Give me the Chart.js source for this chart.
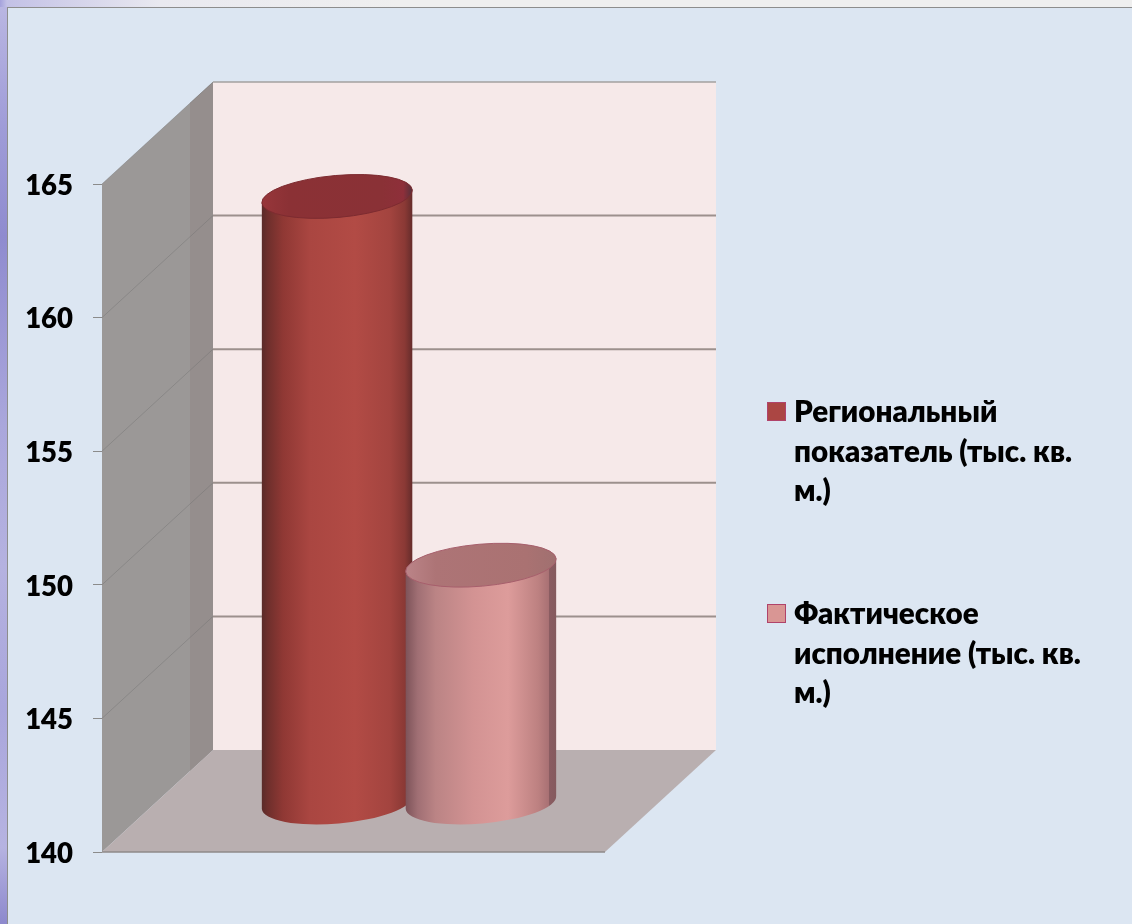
<!DOCTYPE html>
<html>
<head>
<meta charset="utf-8">
<title>Региональный показатель</title>
<script src="https://cdn.jsdelivr.net/npm/chart.js@4"></script>
<style>
  html, body { margin: 0; padding: 0; }
  body {
    width: 1132px; height: 924px; overflow: hidden; position: relative;
    background: linear-gradient(90deg, #a5a2dc 0, #c3c1e6 7px, #e9e9f0 160px, #efefef 400px);
  }
  #strip {
    position: absolute; left: 0; top: 7px; width: 7px; height: 917px;
    background: linear-gradient(180deg, #b9b6e2 0, #9f9cd8 120px, #8f8bcf 230px, #aaa7dc 420px, #b5b2e0 560px, #a9a6dc 700px, #b6b3e1 840px, #8985cb 924px);
  }
  #panel {
    position: absolute; left: 7px; top: 7px; width: 1125px; height: 917px;
    box-sizing: border-box; background: #dce6f2;
    border-left: 1px solid #8d8d8d; border-top: 1px solid #8d8d8d;
  }
  canvas { position: absolute; left: 0; top: 0; }
  #legend { position: absolute; left: 767px; top: 0; font: 800 29.6px Lato, "Noto Sans", sans-serif; color: #000; }
  .item { position: absolute; left: 0; width: 340px; line-height: 39.5px; }
  .item:nth-child(1) { top: 391px; }
  .item:nth-child(2) { top: 593px; }
  .item i { position: absolute; left: 0; top: 11px; width: 17px; height: 17px; border: 1px solid #b0436a; }
  .item span { display: block; margin-left: 27px; white-space: nowrap; }
</style>
</head>
<body>
<div id="strip"></div>
<div id="panel"></div>
<canvas id="chart" width="1132" height="924"></canvas>
<div id="legend"></div>
<script>
// --- Data ---
const categories = ["Показатель"];
const seriesLabels = [
  ["Региональный", "показатель (тыс. кв.", "м.)"],
  ["Фактическое", "исполнение (тыс. кв.", "м.)"],
];
const seriesColors = ["#ab4643", "#d99694"];
const regionalValues = [162.7];
const actualValues = [148.9];
const yTicks = [140, 145, 150, 155, 160, 165];

// --- Look of the 3D box ---
const DEPTH_X = 111;
const DEPTH_Y = 102;
const FONT = "Lato, 'Noto Sans', sans-serif";

const cylinderColors = [
  {
    top: [[0, "#97363a"], [0.18, "#8b3135"], [0.8, "#8a3136"], [0.94, "#8e2f3a"], [1, "#55303a"]],
    rim: "#7d2b30",
    side: [[0, "#5a2b29"], [0.04, "#6e2f2c"], [0.14, "#8f3834"], [0.32, "#aa4641"], [0.62, "#b24b45"], [0.85, "#a3443f"], [0.95, "#8a3935"], [1, "#652c2b"]],
  },
  {
    top: [[0, "#bb8488"], [0.2, "#ad7476"], [0.8, "#aa7272"], [1, "#a07070"]],
    rim: "#a75f6c",
    side: [[0, "#7d5359"], [0.08, "#a06f74"], [0.2, "#bb8485"], [0.45, "#d39393"], [0.68, "#dd9c9b"], [0.88, "#bd8181"], [0.95, "#a97174"], [0.955, "#8a5c61"], [1, "#855a5e"]],
  },
];

function polygon(ctx, points, fill) {
  ctx.beginPath();
  points.forEach(([x, y], i) => (i ? ctx.lineTo(x, y) : ctx.moveTo(x, y)));
  ctx.closePath();
  ctx.fillStyle = fill;
  ctx.fill();
}

function line(ctx, x1, y1, x2, y2, color, width) {
  ctx.beginPath();
  ctx.moveTo(x1, y1);
  ctx.lineTo(x2, y2);
  ctx.strokeStyle = color;
  ctx.lineWidth = width;
  ctx.stroke();
}

function gradient(ctx, x1, x2, stops) {
  const grad = ctx.createLinearGradient(x1, 0, x2, 0);
  stops.forEach(([stop, color]) => grad.addColorStop(stop, color));
  return grad;
}

// walls and floor behind the bars, grid follows the y scale
const boxPlugin = {
  id: "box3d",
  beforeDatasetsDraw(chart) {
    const { ctx, chartArea: a, scales } = chart;
    const y = scales.y;
    const dx = DEPTH_X, dy = DEPTH_Y;
    ctx.save();
    polygon(ctx, [[a.left + dx, a.top - dy], [a.right + dx, a.top - dy], [a.right + dx, a.bottom - dy], [a.left + dx, a.bottom - dy]], "#f6e9e9");
    polygon(ctx, [[a.left, a.top], [a.left + dx, a.top - dy], [a.left + dx, a.bottom - dy], [a.left, a.bottom]], "#9b9897");
    polygon(ctx, [[a.left + 88, a.top - 81], [a.left + dx, a.top - dy], [a.left + dx, a.bottom - dy], [a.left + 88, a.bottom - 81]], "#958e8d");
    polygon(ctx, [[a.left, a.bottom], [a.left + dx, a.bottom - dy], [a.right + dx, a.bottom - dy], [a.right, a.bottom]], "#b9afb0");
    y.ticks.forEach((t) => {
      const py = y.getPixelForValue(t.value);
      if (t.value !== yTicks[0]) {
        line(ctx, a.left, py, a.left + dx, py - dy, "rgba(110,110,110,0.4)", 1);
      }
      if (t.value !== yTicks[0] && t.value !== yTicks[yTicks.length - 1]) {
        line(ctx, a.left + dx, py - dy, a.right + dx, py - dy, "#9c908d", 2);
      }
    });
    line(ctx, a.left + dx, a.top - dy, a.right + dx, a.top - dy, "#a3a09f", 1.5);
    line(ctx, a.left, a.bottom, a.right, a.bottom, "#8f8a8a", 1.5);
    ctx.restore();
  },
  // native rectangles are replaced by the cylinders below
  beforeDatasetDraw() {
    return false;
  },
  afterDatasetsDraw(chart) {
    const { ctx } = chart;
    chart.data.datasets.forEach((ds, i) => {
      chart.getDatasetMeta(i).data.forEach((bar) => {
        drawCylinder(ctx, bar, cylinderColors[i]);
      });
    });
  },
};

function drawCylinder(ctx, bar, colors) {
  const cx = bar.x + DEPTH_X / 2;
  const topY = bar.y - 49;
  const baseY = bar.base - 49;
  const rx = bar.width * 0.525;
  const ry = 21;
  const rot = -5 * Math.PI / 180;
  const ex = rx * Math.cos(rot);
  const ey = rx * Math.sin(rot);

  ctx.save();
  ctx.beginPath();
  ctx.moveTo(cx - ex, topY - ey);
  ctx.lineTo(cx - ex, baseY - ey);
  ctx.ellipse(cx, baseY, rx, ry, rot, Math.PI, 0, true);
  ctx.lineTo(cx + ex, topY + ey);
  ctx.closePath();
  ctx.fillStyle = gradient(ctx, cx - ex, cx + ex, colors.side);
  ctx.fill();

  ctx.beginPath();
  ctx.ellipse(cx, topY, rx, ry, rot, 0, Math.PI * 2);
  ctx.fillStyle = gradient(ctx, cx - ex, cx + ex, colors.top);
  ctx.fill();
  ctx.strokeStyle = colors.rim;
  ctx.lineWidth = 1;
  ctx.stroke();
  ctx.restore();
}

new Chart(document.getElementById("chart"), {
  type: "bar",
  data: {
    labels: categories,
    datasets: [
      { label: seriesLabels[0].join(" "), data: regionalValues, base: yTicks[0], backgroundColor: seriesColors[0] },
      { label: seriesLabels[1].join(" "), data: actualValues, base: yTicks[0], backgroundColor: seriesColors[1] },
    ],
  },
  plugins: [boxPlugin],
  options: {
    responsive: false,
    animation: false,
    layout: { padding: { top: 184, bottom: 72, left: 0, right: 527 } },
    datasets: { bar: { categoryPercentage: 0.572, barPercentage: 1 } },
    scales: {
      x: { display: false },
      y: {
        min: yTicks[0],
        max: yTicks[yTicks.length - 1],
        afterBuildTicks: (scale) => { scale.ticks = yTicks.map((value) => ({ value })); },
        afterFit: (scale) => { scale.width = 102; },
        border: { display: false },
        grid: { drawOnChartArea: false, drawTicks: true, tickLength: 9, tickColor: "#8b8b8b" },
        ticks: { padding: 20, labelOffset: 2, color: "#000", font: { family: FONT, size: 27.5, weight: "800" } },
      },
    },
    plugins: { tooltip: { enabled: false }, legend: { display: false } },
  },
});

// legend as plain html so the lines break like the original
const legendBox = document.getElementById("legend");
seriesLabels.forEach((lines, i) => {
  const item = document.createElement("div");
  item.className = "item";
  const swatch = document.createElement("i");
  swatch.style.background = seriesColors[i];
  item.appendChild(swatch);
  lines.forEach((text) => {
    const span = document.createElement("span");
    span.textContent = text;
    item.appendChild(span);
  });
  legendBox.appendChild(item);
});
</script>
</body>
</html>
